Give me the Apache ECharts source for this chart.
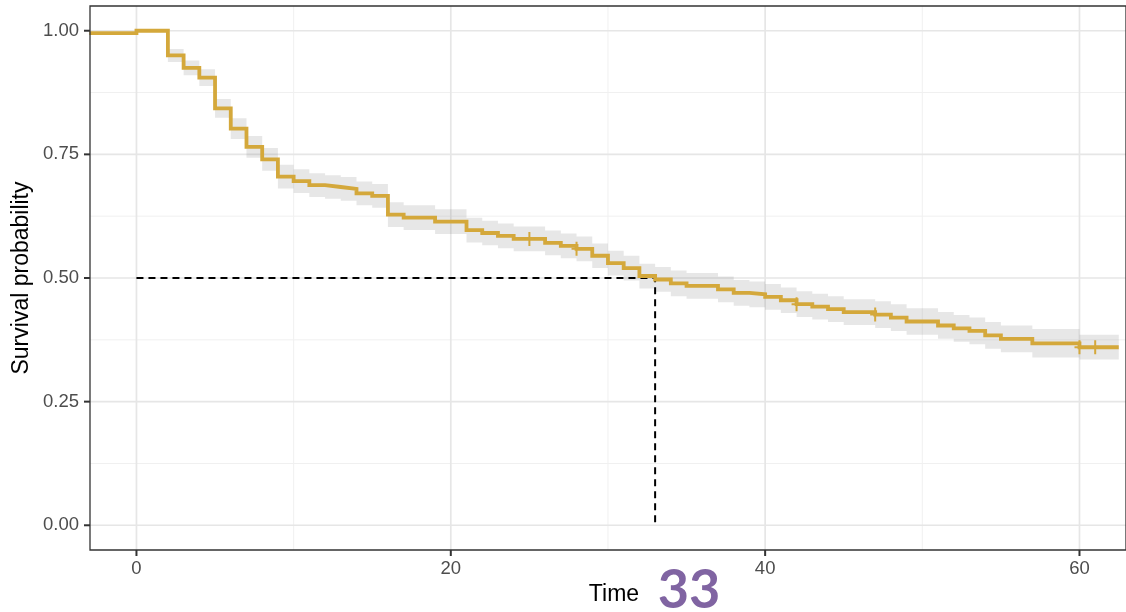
<!DOCTYPE html>
<html><head><meta charset="utf-8">
<script src="https://cdn.jsdelivr.net/npm/echarts@6/dist/echarts.min.js"></script>
<style>html,body{margin:0;padding:0;background:#fff}#c{width:1126px;height:612px}</style>
</head><body><div id="c"></div>
<script>
// ---- data ----
const stepTimes = [-3, 0, 2, 3, 4, 5, 6, 7, 8, 9, 10, 11, 12, 13, 14, 15, 16, 17, 19, 21, 22, 23, 24, 26, 27, 28, 29, 30, 31, 32, 33, 34, 35, 37, 38, 39, 40, 41, 42, 43, 44, 45, 47, 48, 49, 51, 52, 53, 54, 55, 57, 60];
const survival = [0.995, 1.000, 0.950, 0.925, 0.905, 0.843, 0.802, 0.765, 0.740, 0.705, 0.696, 0.688, 0.684, 0.680, 0.671, 0.666, 0.628, 0.622, 0.614, 0.597, 0.591, 0.585, 0.579, 0.571, 0.565, 0.559, 0.545, 0.530, 0.520, 0.504, 0.497, 0.489, 0.484, 0.477, 0.470, 0.467, 0.462, 0.455, 0.447, 0.442, 0.437, 0.431, 0.426, 0.420, 0.412, 0.404, 0.398, 0.393, 0.384, 0.377, 0.368, 0.360];
const lowerCI = [null, null, 0.937, 0.910, 0.888, 0.824, 0.781, 0.743, 0.717, 0.681, 0.672, 0.664, 0.660, 0.656, 0.647, 0.642, 0.603, 0.597, 0.589, 0.572, 0.566, 0.560, 0.554, 0.546, 0.540, 0.534, 0.520, 0.505, 0.495, 0.479, 0.472, 0.463, 0.458, 0.451, 0.444, 0.441, 0.436, 0.429, 0.421, 0.416, 0.411, 0.405, 0.399, 0.393, 0.385, 0.377, 0.371, 0.366, 0.357, 0.350, 0.339, 0.335];
const upperCI = [null, null, 0.963, 0.940, 0.922, 0.862, 0.823, 0.787, 0.763, 0.729, 0.720, 0.712, 0.708, 0.704, 0.695, 0.690, 0.653, 0.647, 0.639, 0.622, 0.616, 0.610, 0.604, 0.596, 0.590, 0.584, 0.570, 0.555, 0.545, 0.529, 0.522, 0.515, 0.510, 0.503, 0.496, 0.493, 0.488, 0.481, 0.473, 0.468, 0.463, 0.457, 0.453, 0.447, 0.439, 0.431, 0.425, 0.420, 0.411, 0.404, 0.397, 0.385];
const endTime = 62.5;
const censorTimes = [25, 28, 42, 47, 60, 61];
const censorSurv = [0.579, 0.559, 0.447, 0.426, 0.360, 0.360];
const medianTime = 33;
const medianSurv = 0.5;
const xTicks = [0, 20, 40, 60];
const xMinor = [10, 30, 50];
const yTicks = [0, 0.25, 0.5, 0.75, 1];
const yMinor = [0.125, 0.375, 0.625, 0.875];
const xTitle = 'Time';
const yTitle = 'Survival probability';
const medianLabel = String(medianTime);

// ---- build series data ----
const curve = stepTimes.map((t, i) => [t, survival[i]]);
curve.push([endTime, survival[survival.length - 1]]);
const bandRows = [];
stepTimes.forEach((t, i) => {
  if (lowerCI[i] == null) return;
  const tNext = i + 1 < stepTimes.length ? stepTimes[i + 1] : endTime;
  bandRows.push([t, tNext, lowerCI[i], upperCI[i]]);
});
const censors = censorTimes.map((t, i) => [t, censorSurv[i]]);
const medianPath = [[0, medianSurv], [medianTime, medianSurv], [medianTime, 0]];

// grid line rows: [value, isXAxis, isMajor]
const gridRows = [];
xMinor.forEach(v => gridRows.push([v, 1, 0]));
yMinor.forEach(v => gridRows.push([v, 0, 0]));
xTicks.forEach(v => gridRows.push([v, 1, 1]));
yTicks.forEach(v => gridRows.push([v, 0, 1]));

const X_MIN = -2.956, X_MAX = 62.96, Y_MIN = -0.05, Y_MAX = 1.05;
const lineColor = '#D4A83B';
const font = '"Liberation Sans", Arial, sans-serif';

const titles = [
  {type: 'text', x: 22, y: 278, rotation: Math.PI / 2, style: {text: yTitle, font: '23px ' + font, fill: '#000', align: 'center', verticalAlign: 'middle'}},
  {type: 'text', x: 614, y: 595, style: {text: xTitle, font: '23px ' + font, fill: '#000', align: 'center', verticalAlign: 'middle'}},
  {type: 'text', x: 689, y: 591, style: {text: medianLabel, font: 'bold 54px Lato, "Open Sans", sans-serif', fill: '#8064A2', align: 'center', verticalAlign: 'middle'}}
];

const chart = echarts.init(document.getElementById('c'), null, {renderer: 'canvas'});
chart.setOption({
  animation: false,
  backgroundColor: '#ffffff',
  grid: {left: 90, top: 6, bottom: 62, right: -12, show: false},
  xAxis: {
    type: 'value', min: X_MIN, max: X_MAX, position: 'bottom',
    splitLine: {show: false}, axisLine: {show: false, onZero: false},
    axisTick: {show: false},
    axisLabel: {customValues: xTicks, margin: 9, color: '#4d4d4d', fontSize: 18.5, fontFamily: font}
  },
  yAxis: {
    type: 'value', min: Y_MIN, max: Y_MAX, position: 'left',
    splitLine: {show: false}, axisLine: {show: false, onZero: false},
    axisTick: {show: false},
    axisLabel: {customValues: yTicks, margin: 11, color: '#4d4d4d', fontSize: 18.5, fontFamily: font,
      formatter: v => Number(v).toFixed(2)}
  },
  graphic: titles,
  series: [
    {type: 'custom', z: 1, silent: true, clip: true, data: gridRows,
      encode: {x: 0},
      renderItem: function (params, api) {
        const cs = params.coordSys;
        const v = api.value(0), isX = api.value(1), major = api.value(2);
        const style = {stroke: major ? '#e6e6e6' : '#f0f0f0', lineWidth: major ? 1.7 : 1};
        if (isX) {
          const px = api.coord([v, 0])[0];
          return {type: 'line', shape: {x1: px, y1: cs.y, x2: px, y2: cs.y + cs.height}, style: style};
        }
        const py = api.coord([0, v])[1];
        return {type: 'line', shape: {x1: cs.x, y1: py, x2: cs.x + cs.width, y2: py}, style: style};
      }
    },
    {type: 'custom', z: 2, silent: true, clip: true, data: bandRows,
      encode: {x: [0, 1], y: [2, 3]},
      renderItem: function (params, api) {
        if (params.dataIndex !== 0) return null;
        const top = [], bot = [];
        bandRows.forEach(r => {
          top.push(api.coord([r[0], r[3]])); top.push(api.coord([r[1], r[3]]));
          bot.push(api.coord([r[0], r[2]])); bot.push(api.coord([r[1], r[2]]));
        });
        return {type: 'polygon', shape: {points: top.concat(bot.reverse())}, style: {fill: 'rgba(128,128,128,0.19)'}};
      }
    },
    {type: 'line', data: medianPath, z: 3, silent: true, showSymbol: false, symbol: 'none',
      lineStyle: {color: '#000000', width: 2, type: [7, 5]}},
    {type: 'line', data: curve, step: 'end', z: 4, silent: true, showSymbol: false, symbol: 'none', clip: true,
      lineStyle: {color: lineColor, width: 3.8, join: 'miter', cap: 'butt'}},
    {type: 'scatter', data: censors, z: 5, silent: true,
      symbol: 'path://M4,0H6V6H10V8H6V14H4V8H0V6H4Z', symbolSize: [10, 14], symbolKeepAspect: false,
      itemStyle: {color: lineColor, opacity: 1}}
  ]
});

// panel frame and tick marks placed through the chart's own scales
const extra = [];
try {
  const bl = chart.convertToPixel({xAxisIndex: 0, yAxisIndex: 0}, [X_MIN, Y_MIN]);
  const tr = chart.convertToPixel({xAxisIndex: 0, yAxisIndex: 0}, [X_MAX, Y_MAX]);
  const frame = {stroke: '#333333', lineWidth: 1.3};
  extra.push({type: 'rect', z: 20, silent: true, shape: {x: bl[0], y: tr[1], width: tr[0] - bl[0], height: bl[1] - tr[1]}, style: {fill: 'none', stroke: '#333333', lineWidth: 1.3}});
  xTicks.forEach(v => {
    const p = chart.convertToPixel({xAxisIndex: 0, yAxisIndex: 0}, [v, Y_MIN]);
    extra.push({type: 'rect', z: 21, silent: true, shape: {x: p[0] - 1, y: bl[1], width: 2, height: 6}, style: {fill: '#333333'}});
  });
  yTicks.forEach(v => {
    const p = chart.convertToPixel({xAxisIndex: 0, yAxisIndex: 0}, [X_MIN, v]);
    extra.push({type: 'rect', z: 21, silent: true, shape: {x: bl[0] - 6, y: p[1] - 1, width: 6, height: 2}, style: {fill: '#333333'}});
  });
} catch (e) {
  extra.push({type: 'text', x: 300, y: 100, z: 50, style: {text: 'ERR ' + e.message, fill: 'red', font: '20px sans-serif'}});
}
chart.setOption({graphic: titles.concat(extra)});
</script></body></html>
